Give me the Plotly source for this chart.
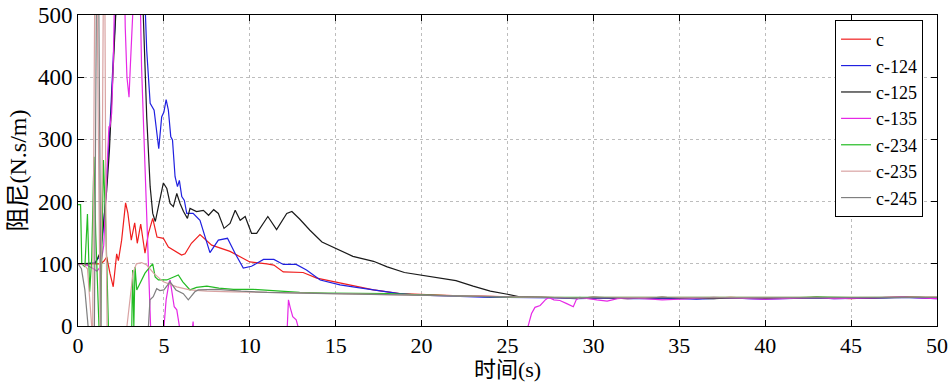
import plotly.graph_objects as go

# damping coefficient time histories for each identified parameter set
tail_t = [26, 27, 28, 29, 30, 31, 32, 33, 34, 35, 36, 37, 38, 39, 40, 41, 42, 43,
          44, 45, 46, 47, 48, 49, 50]

c_t = [0, 0.5, 1.0, 1.3, 1.5, 1.67, 1.86, 2.05, 2.25, 2.35, 2.54, 2.77, 2.9, 3.1,
       3.3, 3.45, 3.65, 3.9, 4.1, 4.35, 4.6, 4.97, 5.26, 5.55, 6.03, 6.23, 6.6, 7.1,
       7.78, 8.85, 9.43, 10.0, 11.0, 11.4, 11.95, 13.1, 13.9, 15.25, 16.2, 17.2,
       18.74, 19.6, 20.5, 21.5, 22.6, 23.5, 24.5, 25.5] + tail_t
c_v = [100, 100, 99, 100, 104, 111, 85, 63, 116, 105, 138, 198, 182, 138,
       166, 133, 164, 117, 149, 173, 143, 141, 127, 122, 114, 116, 133, 147,
       130, 120, 111, 103, 100, 98, 87, 86, 77, 69, 63, 58,
       52, 51, 50, 49, 48, 48, 47, 46,
       46, 46, 45, 45, 46, 45, 44, 45, 46, 45, 44, 45, 46, 45, 44, 45, 46, 46,
       45, 44, 45, 46, 47, 46, 46]

c124_t = [0, 0.5, 1.0, 1.09, 1.28, 1.45, 1.63, 1.86, 2.05, 2.2, 2.4, 3.8, 3.9, 4.0,
          4.2, 4.43, 4.7, 4.87, 5.0, 5.13, 5.26, 5.4, 5.5, 5.65, 5.79, 5.9, 6.04,
          6.19, 6.33, 6.7, 7.1, 7.4, 7.68, 8.17, 8.7, 9.14, 9.62, 10.1, 10.8, 11.4,
          11.95, 12.7, 13.3, 14.1, 15.25, 16.2, 17.6, 18.7, 19.6, 20.5, 21.9, 23,
          24, 25] + tail_t
c124_v = [100, 100, 102, 106, 112, 150, 213, 320, 430, 510, 560, 560, 520, 443,
          358, 347, 285, 336, 344, 364, 347, 304, 299, 240, 224, 234, 208,
          202, 181, 181, 170, 143, 118, 138, 141, 117, 93, 96, 107, 107,
          99, 99, 90, 74, 66, 62, 57, 52, 50, 49, 48, 47,
          46, 46,
          46, 45, 45, 44, 45, 45, 44, 44, 45, 44, 43, 44, 45, 44, 43, 44, 45, 45,
          44, 44, 45, 45, 46, 45, 44]

c125_t = [0, 0.5, 1.0, 1.28, 1.47, 1.67, 1.83, 1.96, 2.16, 2.3, 3.7, 3.8, 4.0, 4.2,
          4.35, 4.5, 4.68, 4.97, 5.17, 5.36, 5.55, 5.75, 5.94, 6.14, 6.37, 6.52,
          6.9, 7.3, 7.6, 7.9, 8.17, 8.5, 8.85, 9.15, 9.44, 9.73, 10.1, 10.4, 11.05,
          11.56, 12.15, 12.45, 12.9, 13.5, 14.2, 15.0, 16.0, 17.2, 18.0, 19.0,
          20.0, 21.0, 22.0, 23.0, 24.0, 25.0, 25.7] + tail_t
c125_v = [100, 100, 101, 117, 160, 218, 283, 363, 500, 560, 560, 500, 336, 224,
          181, 168, 192, 230, 221, 197, 192, 213, 197, 184, 173, 189,
          184, 186, 178, 187, 181, 157, 165, 186, 170, 176, 149, 149, 176,
          155, 181, 184, 172, 154, 135, 125, 112, 104, 95, 86,
          82, 77, 73, 64, 56, 51, 47,
          47, 46, 46, 45, 46, 45, 45, 45, 46, 45, 44, 44, 45, 45, 44, 44, 45, 46,
          45, 45, 45, 46, 46, 46, 45]

c135_t = [0, 0.5, 0.9, 1.1, 1.3, 1.5, 1.7, 1.8, 1.86, 1.96, 2.05, 2.15, 2.7, 2.75,
          2.85, 2.97, 3.05, 3.2, 3.6, 3.7, 3.9, 4.1, 4.2, 4.25, 4.95, 5.0, 5.13,
          5.3, 5.36, 5.45, 5.6, 5.75, 5.9, 5.95, 6.6, 6.7, 6.75, 12.15, 12.2,
          12.25, 12.35, 12.5, 12.7, 12.8, 12.85, 26.1, 26.2, 26.4, 26.6, 26.9,
          27.2, 27.4, 27.7, 28.05, 28.45, 28.83, 29.0, 29.2, 30.2, 30.8, 31.4,
          32, 33, 34, 35, 36, 37, 38, 39, 40, 41, 42, 43, 44, 45, 46, 47, 48, 49,
          50]
c135_v = [100, 98, 92, 88, 95, 130, 260, 320, 320, 342, 420, 560, 560, 480,
          400, 368, 420, 510, 560, 416, 256, 95, 0, -20, -20, 0, 42,
          70, 74, 58, 31, 26, 0, -20, -20, 7, -20, -20, 20,
          42, 30, 15, 10, 0, -20, -20, 0, 20, 30, 33,
          42, 46, 42, 41, 36, 31, 42, 46, 42, 40, 44,
          45, 44, 42, 43, 45, 46, 45, 44, 43, 44, 45, 46, 44, 44, 45, 46, 47, 45,
          44]

c234_t = [0, 0.15, 0.22, 0.4, 0.55, 0.62, 0.68, 0.8, 0.93, 1.03, 1.15, 1.22, 1.3,
          1.48, 1.63, 1.72, 1.77, 1.85, 3.05, 3.13, 3.18, 3.25, 3.32, 3.42, 3.6,
          3.9, 4.19, 4.35, 4.49, 4.68, 5.17, 5.55, 5.84, 6.1, 6.52, 6.9, 7.5, 8.2,
          9.05, 10.2, 11.4, 12.9, 14.5, 16, 18, 20, 22, 24, 25.5] + tail_t
c234_v = [195, 195, 100, 95, 180, 100, 55, 110, 272, 150, 40, 0, -20,
          267, 149, 40, 0, -20, -20, 0, 90, 0, 95, 58, 69,
          85, 95, 100, 79, 74, 74, 79, 82, 71, 58, 62, 64, 61,
          59, 59, 57, 54, 53, 53, 52, 50, 49, 47, 46,
          46, 46, 46, 46, 46, 46, 45, 46, 46, 46, 45, 45, 46, 46, 45, 45, 46, 47,
          46, 46, 46, 46, 47, 46, 46]

c235_t = [0, 0.3, 0.55, 0.7, 0.78, 0.85, 0.92, 0.98, 1.1, 1.18, 1.25, 1.3, 1.42,
          1.48, 1.56, 1.62, 1.7, 2.75, 2.85, 3.0, 3.2, 3.4, 3.7, 4.0, 4.4, 4.97,
          5.75, 6.5, 7.5, 9, 11, 13, 15, 18, 21, 24, 25.5] + tail_t
c235_v = [100, 100, 92, 40, 0, -20, 300, 560, 560, 300, 50, -20, 300,
          560, 560, 200, -20, -20, 0, 40, 85, 100, 102, 98, 85, 71,
          63, 58, 56, 55, 54, 53, 52, 50, 49, 47, 46,
          46, 46, 46, 45, 46, 46, 45, 45, 46, 46, 45, 45, 46, 45, 45, 45, 46, 46,
          46, 45, 45, 46, 46, 46, 46]

c245_t = [0, 0.2, 0.4, 0.6, 0.65, 0.95, 1.02, 1.08, 1.2, 1.3, 1.35, 4.0, 4.1, 4.19,
          4.38, 4.58, 4.77, 5.0, 5.36, 5.7, 6.13, 6.42, 6.8, 7.0, 8.1, 9.5, 11, 13,
          15, 18, 21, 24, 25.5] + tail_t
c245_v = [100, 92, 58, 0, -20, -20, 300, 560, 560, 100, -20, -20, 0, 42,
          47, 60, 57, 58, 71, 58, 52, 42, 55, 58, 59, 56, 54, 53,
          52, 50, 48, 47, 46,
          46, 46, 45, 45, 46, 45, 45, 45, 46, 45, 45, 45, 46, 45, 45, 45, 46, 46,
          45, 45, 45, 46, 46, 46, 46]

series = [
    ("c", c_t, c_v, "#f01e1e"),
    ("c-124", c124_t, c124_v, "#2020e0"),
    ("c-125", c125_t, c125_v, "#1a1a1a"),
    ("c-135", c135_t, c135_v, "#e628e6"),
    ("c-234", c234_t, c234_v, "#22bb22"),
    ("c-235", c235_t, c235_v, "#d9a3a3"),
    ("c-245", c245_t, c245_v, "#7f7f7f"),
]

SERIF = "Times New Roman"
CJK = "Times New Roman, Noto Sans CJK SC"

fig = go.Figure()
for name, t, v, color in series:
    fig.add_trace(go.Scatter(x=t, y=v, mode="lines", name=name,
                             line=dict(color=color, width=1.2)))

axis_common = dict(
    showline=True, linecolor="black", linewidth=1, mirror="ticks",
    ticks="inside", ticklen=6, tickcolor="black", automargin=False,
    showgrid=True, gridcolor="#bdbdbd", griddash="dot", gridwidth=1,
    zeroline=False,
)

fig.update_xaxes(range=[0, 50], tickmode="array",
                 tickvals=[0, 5, 10, 15, 20, 25, 30, 35, 40, 45, 50],
                 tickfont=dict(family=SERIF, size=22, color="black"),
                 title=dict(text="时间(s)", font=dict(family=CJK, size=22, color="black"),
                            standoff=6),
                 **axis_common)
fig.update_yaxes(range=[0, 500], tickmode="array",
                 tickvals=[0, 100, 200, 300, 400, 500],
                 tickfont=dict(family=SERIF, size=23, color="black"),
                 title=dict(text="阻尼(N.s/m)", font=dict(family=CJK, size=24, color="black"),
                            standoff=4),
                 **axis_common)

fig.update_layout(
    width=952, height=382,
    margin=dict(l=78, r=15, t=15, b=56),
    paper_bgcolor="white", plot_bgcolor="white",
    font=dict(family=SERIF, color="black"),
    legend=dict(x=0.8813, y=0.984, xanchor="left", yanchor="top",
                bgcolor="white", bordercolor="black", borderwidth=1,
                font=dict(family=SERIF, size=18, color="black"),
                tracegroupgap=0, itemwidth=30),
)

fig.write_html("out.html")
